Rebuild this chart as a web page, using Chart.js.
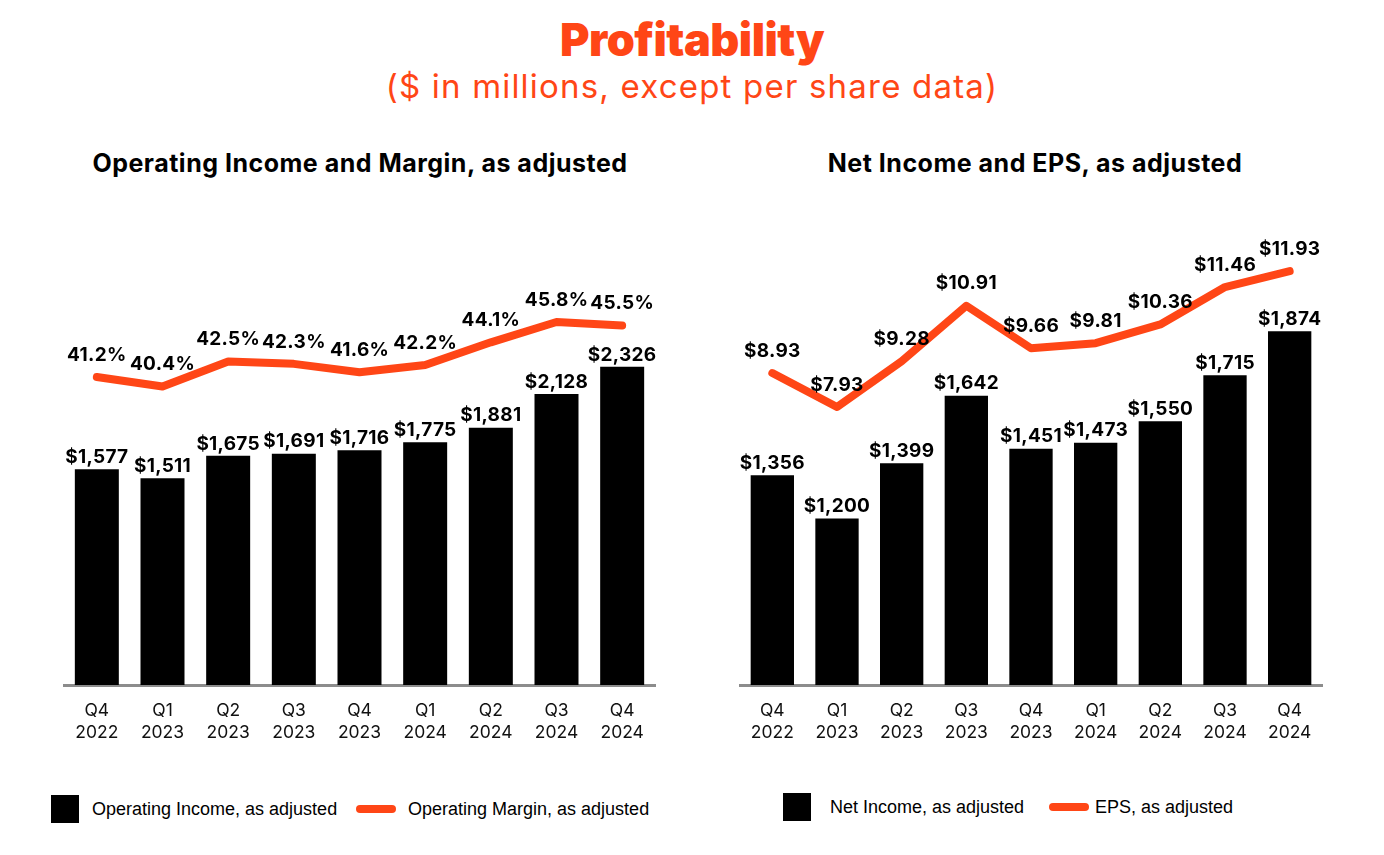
<!DOCTYPE html>
<html>
<head>
<meta charset="utf-8">
<script src="https://cdn.jsdelivr.net/npm/chart.js@4"></script>
<style>
  body { margin: 0; background: #fff; width: 1384px; height: 855px; position: relative; overflow: hidden; }
  .main-title { position: absolute; left: 0; width: 1384px; top: 12px; text-align: center; color: #ff4616;
    font: 900 45px "Inter", sans-serif; letter-spacing: -0.5px; }
  .sub-title { position: absolute; left: 0; width: 1384px; top: 66px; text-align: center; color: #ff4616;
    font: 400 33px "Inter", sans-serif; letter-spacing: 1.2px; }
  .chart-title { position: absolute; top: 148px; text-align: center; color: #000;
    font: 700 25px "Inter", sans-serif; letter-spacing: 0.5px; }
  canvas { position: absolute; }
  .legend { position: absolute; top: 795px; font: 18px "Liberation Sans", Arial, sans-serif; color: #000; }
  .sq { position: absolute; width: 28px; height: 28px; background: #000; }
  .ln { position: absolute; width: 40px; height: 8px; border-radius: 4px; background: #ff4616; }
  .txt { position: absolute; white-space: nowrap; line-height: 28px; }
</style>
</head>
<body>
<div class="main-title">Profitability</div>
<div class="sub-title">($ in millions, except per share data)</div>

<div class="chart-title" style="left:40px;width:640px;">Operating Income and Margin, as adjusted</div>
<div class="chart-title" style="left:715px;width:640px;">Net Income and EPS, as adjusted</div>

<canvas id="leftChart" width="631" height="560" style="left:44px;top:200px;"></canvas>
<canvas id="rightChart" width="622" height="560" style="left:720px;top:200px;"></canvas>

<div class="legend">
  <div class="sq" style="left:51px;top:0;"></div>
  <div class="txt" style="left:92px;top:0;">Operating Income, as adjusted</div>
  <div class="ln" style="left:356px;top:10px;"></div>
  <div class="txt" style="left:408px;top:0;">Operating Margin, as adjusted</div>

  <div class="sq" style="left:783px;top:-2px;"></div>
  <div class="txt" style="left:830px;top:-2px;">Net Income, as adjusted</div>
  <div class="ln" style="left:1049px;top:8px;"></div>
  <div class="txt" style="left:1095px;top:-2px;">EPS, as adjusted</div>
</div>

<script>
const quarters = [["Q4", "2022"], ["Q1", "2023"], ["Q2", "2023"], ["Q3", "2023"], ["Q4", "2023"],
                  ["Q1", "2024"], ["Q2", "2024"], ["Q3", "2024"], ["Q4", "2024"]];
const operatingIncome = [1577, 1511, 1675, 1691, 1716, 1775, 1881, 2128, 2326];
const operatingMargin = [41.2, 40.4, 42.5, 42.3, 41.6, 42.2, 44.1, 45.8, 45.5];
const netIncome = [1356, 1200, 1399, 1642, 1451, 1473, 1550, 1715, 1874];
const eps = [8.93, 7.93, 9.28, 10.91, 9.66, 9.81, 10.36, 11.46, 11.93];

const orange = "#ff4616";

// draws the value labels above bars and line points
const valueLabels = {
  id: "valueLabels",
  afterDatasetsDraw(chart) {
    const ctx = chart.ctx;
    ctx.save();
    ctx.font = "700 19px Inter, sans-serif";
    ctx.letterSpacing = "0.3px";
    ctx.fillStyle = "#000";
    ctx.textAlign = "center";
    ctx.textBaseline = "middle";
    chart.data.datasets.forEach((ds, i) => {
      const meta = chart.getDatasetMeta(i);
      meta.data.forEach((el, j) => {
        const txt = ds.fmt(ds.data[j]);
        const off = ds.type === "line" ? 22 : 12;
        ctx.fillText(txt, el.x, el.y - off);
      });
    });
    ctx.restore();
  }
};

const money = v => "$" + v.toLocaleString("en-US");

function makeChart(id, barData, barFmt, lineData, lineFmt, barRange, lineRange) {
  return new Chart(document.getElementById(id), {
    data: {
      labels: quarters,
      datasets: [
        {
          type: "line",
          data: lineData,
          fmt: lineFmt,
          yAxisID: "y2",
          borderColor: orange,
          borderWidth: 8,
          borderCapStyle: "round",
          borderJoinStyle: "round",
          pointRadius: 0,
          tension: 0,
          order: 0,
        },
        {
          type: "bar",
          data: barData,
          fmt: barFmt,
          yAxisID: "y",
          backgroundColor: "#000",
          barPercentage: 0.67,
          categoryPercentage: 1,
          order: 1,
        },
      ],
    },
    options: {
      responsive: false,
      animation: false,
      layout: { padding: { left: 20, right: 20, top: 30, bottom: 0 } },
      plugins: { legend: { display: false }, tooltip: { enabled: false } },
      scales: {
        x: {
          grid: { display: false, drawTicks: false },
          border: { display: true, color: "#8c8c8c", width: 3 },
          ticks: { padding: 15, color: "#111", font: { family: "Inter", size: 17.5, lineHeight: 1.25 } },
          afterFit: s => { s.height = 75; },
        },
        y: { display: false, min: barRange[0], max: barRange[1] },
        y2: { display: false, min: lineRange[0], max: lineRange[1] },
      },
    },
    plugins: [valueLabels],
  });
}

makeChart("leftChart", operatingIncome, money, operatingMargin, v => v.toFixed(1) + "%",
  [0, 3326], [15.45, 53.49]);
makeChart("rightChart", netIncome, money, eps, v => "$" + v.toFixed(2),
  [601, 2238], [-0.25, 13.14]);
</script>
</body>
</html>
